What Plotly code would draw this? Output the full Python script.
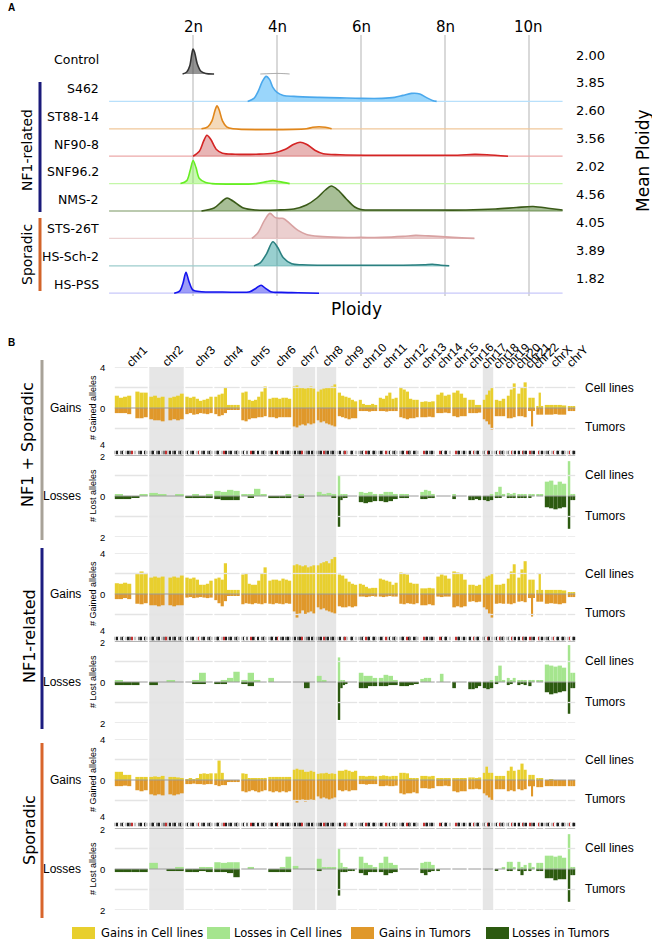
import plotly.graph_objects as go

W, H = 652, 939
def fx(x): return x / W
def fy(y): return 1 - y / H

# ================= Panel A data =================
samples = ["Control", "S462", "ST88-14", "NF90-8", "SNF96.2", "NMS-2", "STS-26T", "HS-Sch-2", "HS-PSS"]
mean_ploidy = ["2.00", "3.85", "2.60", "3.56", "2.02", "4.56", "4.05", "3.89", "1.82"]
ploidy_tickvals = [2, 4, 6, 8, 10]
ploidy_ticktext = ["2n", "4n", "6n", "8n", "10n"]
density_end = [None, 10.8, 10.8, 10.8, 10.8, 10.8, 8.7, 8.1, 10.8]

control_x = [1.75, 1.85, 1.92, 1.97, 2.0, 2.04, 2.1, 2.18, 2.3, 2.5, None, 3.6, 3.85, 4.0, 4.15, 4.3]
control_d = [0, 2, 8, 20, 25, 21, 10, 3, 0.5, 0, None, 0, 0.4, 0.6, 0.4, 0]
s462_x = [3.3, 3.45, 3.55, 3.65, 3.74, 3.82, 3.9, 4.0, 4.15, 4.4, 5.0, 5.5, 6.0, 6.5, 6.8, 7.0, 7.2, 7.4, 7.55, 7.7, 7.8]
s462_d = [0, 3, 10, 20, 25, 22, 14, 9, 6, 5, 4, 3.5, 3, 3, 4, 6, 8, 7.5, 4, 1, 0]
st88_x = [2.2, 2.35, 2.45, 2.52, 2.57, 2.62, 2.7, 2.8, 2.95, 4.7, 4.85, 5.0, 5.15, 5.3]
st88_d = [0, 2, 8, 18, 23, 19, 8, 2, 0, 0, 1.5, 2, 1.5, 0]
nf908_x = [2.0, 2.15, 2.25, 2.33, 2.42, 2.55, 2.7, 3.0, 3.5, 3.9, 4.2, 4.4, 4.55, 4.7, 4.9, 5.1, 5.5, 6.5, 7.5, 8.3, 8.7, 9.0, 9.5]
nf908_d = [0, 5, 15, 21, 17, 7, 3, 2, 2, 3, 7, 12, 14, 12, 6, 2.5, 1.5, 1, 1, 1, 1.8, 1.5, 0]
snf96_x = [1.7, 1.85, 1.93, 2.0, 2.07, 2.15, 2.3, 2.45, 3.5, 3.75, 3.9, 4.05, 4.3]
snf96_d = [0, 3, 13, 23, 16, 5, 1, 0, 0, 2, 3, 2, 0]
nms2_x = [2.2, 2.5, 2.7, 2.81, 2.95, 3.2, 3.5, 4.0, 4.4, 4.7, 4.95, 5.15, 5.29, 5.45, 5.65, 5.85, 6.0, 6.5, 7.5, 8.5, 9.2, 9.7, 10.1, 10.5, 10.8]
nms2_d = [0, 3, 10, 13, 10, 3, 1, 1, 2, 6, 13, 21, 25, 21, 12, 4, 1.5, 1, 1, 1, 2, 3.5, 4.5, 2.5, 1]
sts26_x = [3.4, 3.55, 3.7, 3.83, 3.95, 4.05, 4.15, 4.3, 4.5, 4.7, 5.0, 5.5, 6.0, 6.5, 7.0, 7.3, 7.6, 8.0, 8.4, 8.7]
sts26_d = [0, 6, 18, 25, 21, 20, 20, 15, 8, 4, 2, 1, 1, 1, 2, 3, 2.5, 1.5, 0.5, 0]
hssch2_x = [3.45, 3.6, 3.75, 3.9, 4.02, 4.15, 4.35, 4.6, 5.0, 6.0, 7.0, 7.5, 7.7, 7.9, 8.1]
hssch2_d = [0, 3, 12, 24, 18, 8, 2, 1, 0.6, 0.5, 0.6, 1, 1.5, 0.6, 0]
hspss_x = [1.55, 1.68, 1.76, 1.83, 1.9, 2.0, 2.2, 2.6, 3.0, 3.35, 3.5, 3.62, 3.72, 3.85, 4.1, 4.5, 5.0]
hspss_d = [0, 2, 10, 21, 12, 3, 1.5, 1.2, 1, 1.5, 5, 8, 5, 1.5, 0.8, 0.5, 0]

dens_x = [control_x, s462_x, st88_x, nf908_x, snf96_x, nms2_x, sts26_x, hssch2_x, hspss_x]
dens_d = [control_d, s462_d, st88_d, nf908_d, snf96_d, nms2_d, sts26_d, hssch2_d, hspss_d]

# ================= Panel B data =================
chromosomes = ["chr1", "chr2", "chr3", "chr4", "chr5", "chr6", "chr7", "chr8", "chr9", "chr10", "chr11", "chr12",
               "chr13", "chr14", "chr15", "chr16", "chr17", "chr18", "chr19", "chr20", "chr21", "chr22", "chrX", "chrY"]
chrom_len = [34.5, 36, 29, 27, 27, 24.5, 24, 21, 21, 20, 20.5, 21, 16, 16, 16, 14.5, 12, 12, 10.5, 11, 8, 8.5, 23, 9]
shaded_chroms = ["chr2", "chr7", "chr8", "chr17"]
ideogram_bands = ["lkwgkwlkgrwlwgkwkl", "lgkwgkwlgrlkwgkwgkl", "lkwgkwlrwgkwgkl", "lgkwlrkwgkwgkl",
                  "lkwgwrkgwkwgkl", "lgkwkrwgkwgkl", "lkwgkrwlgkwkl", "lgkwrgkwgkl", "lkwgrlwgkwl",
                  "lgkwrgkwgkl", "lkgwrlkwgkl", "lgkwrkgwkgl", "wwrgkwgkl", "wwrkwgkwl", "wwrgkwlkl",
                  "lkwrlgkw", "lgwrkwl", "lkwrgkl", "lgwrlk", "lkwrgk", "wrgk", "wrlk", "lgkwlrwgkwgkl", "lrwgk"]

all_gain_cell = [[1.2,1.0,1.1,1.2,0.0,1.6,1.5,1.5],[1.1,1.2,1.0,1.1,0.0,1.0,1.1,1.2,1.4],[1.1,1.0,1.1,0.9,0.7,0.8,0.9,1.1],
    [1.1,1.3,1.4,2.0,0.3,0.3,0.3,0.3],[1.5,1.6,0.8,0.7,0.8,1.1,1.6,2.1],[0.9,1.0,1.0,0.9,1.0,1.0,0.9],
    [2.1,2.2,2.0,2.0,1.9,2.0,2.1,1.9],[1.6,1.8,1.9,2.0,2.0,2.1,2.3],[1.5,1.2,1.1,1.0,0.8,0.65],[0.8,0.4,0.3,0.3,0.4,0.3],
    [1.0,0.9,1.2,1.5,0.9,1.0],[2.0,1.8,1.6,0.9,0.8,0.8],[0.6,0.65,0.6,0.65],[1.3,1.5,1.2,1.3],[1.5,1.7,1.4,1.0],
    [0.8,0.8,0.3,0.3],[0.8,1.3,1.7,2.0],[0.8,0.7,0.9],[1.2,1.8,2.4],[1.4,2.0,2.5],[1.0,1.0],[0.2,1.5,0.2],
    [0.3,0.3,0.3,0.3,0.25],[0.1,0.1,0.1]]
all_gain_tum = [[-0.5,-0.5,-0.5,-0.6,0.0,-1.0,-1.0,-0.9],[-1.1,-1.2,-1.2,-1.3,0.0,-1.2,-1.1,-1.2,-1.1],
    [-0.6,-0.5,-0.65,-0.6,-0.5,-0.55,-0.6,-0.5],[-0.6,-0.8,-0.7,-0.5,-0.15,-0.15,-0.15,-0.15],
    [-1.2,-1.3,-1.1,-1.0,-1.0,-0.9,-0.9,-0.8],[-0.9,-0.9,-1.0,-0.9,-0.9,-0.9,-0.9],[-1.8,-1.9,-1.7,-1.6,-1.7,-1.5,-1.6,-1.5],
    [-1.2,-1.4,-1.3,-1.5,-1.6,-1.7,-1.8],[-0.8,-0.9,-1.0,-1.1,-1.0,-1.0],[-0.3,-0.3,-0.3,-0.35,-0.3,-0.3],
    [-0.3,-0.3,-0.35,-0.3,-0.3,-0.3],[-0.9,-1.0,-1.1,-1.0,-1.0,-0.9],[-0.9,-0.9,-0.85,-0.9],[-0.5,-0.5,-0.45,-0.5],
    [-0.8,-0.9,-0.8,-0.8],[-0.5,-0.5,-0.5,-0.45],[-1.1,-1.3,-1.6,-2.1],[-0.8,-0.8,-0.8],[-1.0,-1.0,-0.9],
    [-0.8,-0.8,-0.9],[-0.3,-0.3,-1.8,-0.3],[-0.65,-0.65],[-0.65,-0.65,-0.6,-0.65,-0.65],[-0.3,-0.3,-0.3]]
all_loss_cell = [[0.05,0,0,0.05],[0.15,0.05,0,0.05],[0,0.05,0,0.1],[0.25,0.2,0.3,0.25],[0.05,0.05,0.35,0.05],[0,0,0,0.05],
    [0,0.1,0,0],[0.2,0.1,0.15,0.05],[1.0,0.1,0.05,0.05,0,0,0,0],[0.2,0.15,0.2,0.1],[0.1,0.2,0.2,0.1],[0.1,0.05,0,0],
    [0.2,0.3,0.25,0.1],[0,0,0,0],[0.05,0,0,0],[0,0,0,0],[0,0,0.05],[0.2,0.45,0.1],[0.15,0.1,0.15],[0.05,0.1,0.05],
    [0.1,0.05],[0.05,0.05],[0.7,0.75,0.55,0.7,0.6],[1.7,0.1,0.1]]
all_loss_tum = [[-0.15,-0.15,-0.05,0],[0,0,0,0],[-0.1,-0.1,-0.05,-0.1],[-0.15,-0.2,-0.2,-0.2],[0,-0.05,0,0],
    [-0.1,-0.1,-0.1,-0.1],[0,-0.05,0,0],[0,0,0,-0.05],[-1.5,-0.2,-0.1,-0.05,0,0,0,0],[-0.3,-0.35,-0.3,-0.25],
    [-0.25,-0.3,-0.25,-0.15],[-0.1,-0.1,0,0],[-0.15,-0.15,-0.1,-0.1],[0,0,0,0],[-0.15,0,0,0],[-0.2,-0.2,-0.15,-0.2],
    [-0.2,-0.25,-0.2],[-0.1,-0.05,0],[-0.1,-0.05,-0.1],[-0.1,-0.05,-0.1],[-0.05,0],[0,0],
    [-0.55,-0.6,-0.65,-0.6,-0.55],[-1.6,-0.2,-0.2]]

nf1_gain_cell = [[1.05,1.0,1.1,1.0,0.0,2.0,2.2,2.0],[1.6,1.7,1.6,1.7,0.0,1.6,1.7,1.6,1.8],[1.6,1.5,1.6,1.4,0.9,0.9,1.0,1.3],
    [1.5,1.6,1.4,3.0,0.4,0.4,0.4,0.4],[1.9,2.0,1.0,0.9,0.9,1.3,2.0,2.6],[1.3,1.4,1.4,1.3,1.5,1.4,1.3],
    [2.8,2.9,2.8,2.7,2.8,2.6,2.7,2.8],[2.8,3.0,3.1,3.2,3.0,3.4,3.6],[1.9,1.8,1.5,1.2,1.0,0.9],[1.0,0.9,0.7,0.55,0.6,0.6],
    [1.5,1.4,1.3,1.2,0.9,1.1],[2.1,2.0,1.9,1.1,1.0,1.0],[0.55,0.55,0.6,0.55],[1.7,1.9,1.8,1.5],[2.2,2.1,2.0,1.4],
    [0.9,0.9,0.8,0.9],[1.5,1.7,1.8,2.0],[0.9,0.9,1.0],[1.5,2.2,2.9],[1.6,2.4,3.2],[1.4,1.4],[0.4,2.0,0.4],
    [0.4,0.4,0.4,0.4,0.35],[0.1,0.1,0.1]]
nf1_gain_tum = [[-0.5,-0.5,-0.4,-0.5,0.0,-0.95,-1.0,-0.9],[-1.1,-1.1,-1.2,-1.1,0.0,-1.1,-1.2,-1.1,-1.1],
    [-0.35,-0.3,-0.4,-0.35,-0.3,-0.35,-0.4,-0.35],[-0.6,-0.9,-1.2,-0.7,-0.1,-0.1,-0.1,-0.1],
    [-1.0,-0.9,-0.95,-1.0,-0.9,-0.95,-1.0,-0.9],[-0.95,-1.0,-0.9,-0.95,-1.0,-0.9,-0.95],
    [-1.7,-2.3,-1.9,-1.6,-2.0,-1.8,-1.7,-1.9],[-1.3,-1.5,-1.4,-1.6,-1.7,-1.8,-1.9],[-1.2,-1.3,-1.3,-1.2,-1.3,-1.2],
    [-0.25,-0.25,-0.3,-0.25,-0.2,-0.25],[-0.25,-0.3,-0.25,-0.2,-0.25,-0.25],[-0.95,-1.0,-0.9,-0.95,-1.0,-0.9],
    [-1.1,-1.1,-1.0,-1.1],[-0.25,-0.3,-0.25,-0.25],[-1.3,-1.2,-1.3,-1.2],[-0.75,-0.7,-0.8,-0.75],[-1.3,-1.5,-1.9,-2.3],
    [-0.95,-0.9,-0.95],[-0.95,-1.0,-0.9],[-0.75,-0.7,-0.8],[-0.4,-0.4,-2.2,-0.4],[-0.75,-0.75],
    [-0.95,-0.9,-0.95,-1.0,-0.9],[-0.3,-0.3,-0.3]]
nf1_loss_cell = [[0.05,0,0,0],[0,0,0.05,0],[0,0.1,0.45,0],[0,0.1,0.2,0.5],[0.1,0.45,0.1,0],[0.2,0,0,0],[0,0,0,0],
    [0.3,0.1,0,0],[1.2,0.1,0.05,0,0,0,0,0],[0.45,0.3,0.3,0.2],[0.2,0.35,0.3,0.1],[0,0,0,0],[0.15,0.2,0.2,0],
    [0,0.4,0,0],[0,0,0,0],[0,0,0,0],[0,0,0.05],[0.3,0.8,0.1],[0.2,0.1,0.2],[0.05,0.1,0.05],[0.1,0.1],[0.05,0.05],
    [0.85,0.8,0.75,0.8,0.7],[1.8,0.45,0.45]]
nf1_loss_tum = [[-0.15,-0.15,-0.15,0],[-0.15,0,0,0],[0,-0.1,-0.1,0],[-0.1,-0.1,0,0],[-0.1,-0.2,0,0],[0,0,0,0],
    [0,0,-0.3,0],[0,0,0,0],[-1.85,-0.3,-0.15,-0.1,0,0,0,0],[-0.3,-0.3,-0.2,-0.2],[-0.2,-0.2,-0.15,-0.15],
    [-0.2,-0.2,-0.15,-0.1],[0,0,0,0],[0,0,0,0],[-0.3,0,0,0],[-0.35,-0.35,-0.3,-0.2],[-0.3,-0.35,-0.3],[-0.1,0,0],
    [-0.15,-0.1,0],[-0.15,-0.1,-0.15],[-0.2,0],[0,0],[-0.5,-0.6,-0.55,-0.5,-0.45],[-1.55,-0.3,-0.3]]

spor_gain_cell = [[0.8,0.8,0.5,0.5,0.0,0.3,0.3,0.3],[0.3,0.35,0.3,0.4,0.0,0.3,0.3,0.25,0.2],[0.05,0.1,0.05,0.1,0.6,0.65,0.6,0.65],
    [0.65,1.9,0.7,0,0,0,0,0],[0.65,0.6,0.15,0.15,0.1,0.15,0.15,0.2],[0.3,0.3,0.3,0.3,0.3,0.3,0.3],
    [1.0,1.1,1.0,1.0,0.8,0.8,0.9,0.8],[0.6,0.65,0.65,0.7,0.6,0.65,0.6],[0.9,0.9,1.0,0.9,0.8,0.9],
    [0.4,0.4,0.35,0.4,0.4,0.35],[0.4,0.45,0.4,0.35,0.4,0.4],[0.7,0.7,0.65,0.2,0.1,0.1],[0.4,0.4,0.35,0.4],
    [0.1,0.1,0.15,0.1],[0.1,0.1,0.1,0.1],[0.25,0.25,0.2,0.25],[0.7,1.3,0.7,0.7],[0.4,0.4,0.4],[0.9,1.3,0.9],
    [1.0,1.6,1.0],[0.5,0.5],[0.1,0.1,0.1],[0.0,0.05,0.0,0.0,0.0],[0.0,0.0,0.0]]
spor_gain_tum = [[-0.6,-0.6,-0.55,-0.6,0.0,-1.0,-1.1,-1.0],[-1.4,-1.5,-1.4,-1.5,0.0,-1.4,-1.5,-1.4,-1.3],
    [-0.4,-0.4,-0.35,-0.4,-0.4,-0.45,-0.4,-0.4],[-0.5,-0.6,-0.5,-0.5,-0.2,-0.2,-0.2,-0.2],
    [-1.1,-1.2,-1.1,-1.0,-1.1,-1.2,-1.1,-1.0],[-1.1,-1.2,-1.1,-1.2,-1.1,-1.2,-1.1],[-2.0,-2.2,-2.0,-1.9,-2.1,-2.0,-1.9,-2.0],
    [-1.6,-1.8,-1.7,-1.8,-1.9,-1.8,-1.7],[-1.0,-1.1,-1.0,-1.1,-1.0,-1.0],[-0.4,-0.4,-0.45,-0.4,-0.4,-0.4],
    [-0.6,-0.6,-0.55,-0.6,-0.6,-0.55],[-1.3,-1.4,-1.3,-1.3,-1.2,-1.3],[-0.8,-0.8,-0.85,-0.8],[-0.6,-0.6,-0.55,-0.6],
    [-1.1,-1.2,-1.1,-1.1],[-0.9,-0.9,-0.85,-0.9],[-1.3,-1.5,-1.7,-2.0],[-0.9,-0.9,-0.9],[-1.1,-1.0,-1.1],
    [-0.9,-1.0,-0.9],[-0.6,-0.6,-1.6,-0.6],[-0.7,-0.7],[-0.6,-0.6,-0.6,-0.6,-0.6],[-0.6,-0.6,-0.6]]
spor_loss_cell = [[0,0,0,0],[0.3,0,0,0.1],[0,0,0.1,0.05],[0.33,0.3,0.33,0.33],[0,0.1,0,0],[0,0,0.1,0.6],[0.15,0,0,0],
    [0.5,0.1,0.1,0.05],[1.0,0.3,0.1,0.05,0,0,0,0],[0.6,0.3,0.2,0.1],[0.3,0.6,0.3,0.2],[0,0,0,0],[0.3,0.35,0.35,0.2],
    [0,0,0,0],[0,0,0,0],[0,0,0,0],[0,0,0],[0,0,0.1],[0.35,0.35,0.1],[0.35,0.1,0.2],[0.3,0.1],[0.3,0.3],
    [0.65,0.65,0.6,0.65,0.55],[1.7,0.1,0.1]]
spor_loss_tum = [[-0.15,-0.15,-0.15,-0.15],[0,0,-0.1,-0.1],[-0.15,-0.15,-0.1,-0.15],[-0.15,-0.15,-0.2,-0.4],[0,0,0,0],
    [-0.15,-0.15,-0.15,-0.15],[0,0,0,0],[-0.1,0,0,0],[-1.3,-0.15,-0.15,-0.15,-0.1,-0.1,-0.1,0],[-0.2,-0.3,-0.15,-0.15],
    [-0.15,-0.3,-0.2,-0.15],[0,0,0,0],[-0.2,-0.3,-0.15,-0.1],[-0.1,0,0,0],[0,0,0,0],[0,0,0,0],[0,0,0],[-0.05,0,0],
    [-0.1,-0.1,0],[-0.1,-0.3,-0.1],[-0.1,0],[-0.1,-0.1],[-0.45,-0.45,-0.55,-0.5,-0.5],[-1.6,-0.3,-0.3]]

group_names = ["NF1 + Sporadic", "NF1-related", "Sporadic"]
legend_labels = ["Gains in Cell lines", "Losses in Cell lines", "Gains in Tumors", "Losses in Tumors"]

# ================= Styles =================
ridge_line = ["#333333", "#4aa8ec", "#e0861a", "#d42424", "#66ee22", "#3a5a18", "#d8a2a2", "#2b8080", "#1414ee"]
ridge_fill = ["rgba(60,60,60,0.55)", "rgba(120,200,250,0.75)", "rgba(224,150,60,0.35)", "rgba(205,90,90,0.45)",
              "rgba(120,240,60,0.4)", "rgba(80,125,45,0.5)", "rgba(215,160,160,0.5)", "rgba(50,160,160,0.5)",
              "rgba(60,60,240,0.5)"]
ridge_base = ["#bbbbbb", "#b8e0fb", "#f0c79a", "#eca9a9", "#c4f7a8", "#a4b894", "#ecd2d2", "#9ccccc", "#c8c8fa"]
C_GC, C_GT, C_LC, C_LT = "#E8CF2E", "#E0982A", "#A5E58E", "#2C5A10"
SANS = "Liberation Sans, Arial, sans-serif"
DEJA = "DejaVu Sans, sans-serif"

fig = go.Figure()
annotations = []
shapes = []

def txt(x, y, s, size, family=DEJA, xanchor="center", yanchor="middle", angle=0, color="black", xref="paper", xshift=0):
    annotations.append(dict(x=x if xref != "paper" else fx(x), y=fy(y), xref=xref, yref="paper", text=s,
                            showarrow=False, font=dict(size=size, family=family, color=color),
                            xanchor=xanchor, yanchor=yanchor, textangle=angle, xshift=xshift))

# ================= Panel A =================
ROW0, ROWS = 74.0, 27.4
x0p = 0.0
for i, name in enumerate(samples):
    base = -i
    if density_end[i] is not None:
        fig.add_trace(go.Scatter(x=[x0p, density_end[i]], y=[base, base], mode="lines",
                                 line=dict(color=ridge_base[i], width=1.3), hoverinfo="skip", showlegend=False))
    pieces, cx, cd = [], [], []
    for xv, dv in zip(dens_x[i], dens_d[i]):
        if xv is None:
            pieces.append((cx, cd)); cx, cd = [], []
        else:
            cx.append(xv); cd.append(dv)
    pieces.append((cx, cd))
    for pi, (px_, pd_) in enumerate(pieces):
        fig.add_trace(go.Scatter(x=[px_[0], px_[-1]], y=[base, base], mode="lines", line=dict(width=0, color="rgba(0,0,0,0)"),
                                 hoverinfo="skip", showlegend=False))
        lc = ridge_line[i] if (i != 0 or pi == 0) else "#b0b0b0"
        fig.add_trace(go.Scatter(x=px_, y=[base + d / ROWS for d in pd_], mode="lines",
                                 line=dict(color=lc, width=1.6 if lc != "#b0b0b0" else 1.0, shape="spline", smoothing=0.9),
                                 fill="tonexty", fillcolor=ridge_fill[i], hoverinfo="skip", showlegend=False))
    txt(101, 60 + i * 28, name, 12.5, xanchor="right")
    txt(590, 55 + i * 27.9, mean_ploidy[i], 13)

for tv, tt in zip(ploidy_tickvals, ploidy_ticktext):
    annotations.append(dict(x=tv, y=fy(27), xref="x", yref="paper", text=tt, showarrow=False,
                            font=dict(size=15, family=DEJA, color="black"), xanchor="center", yanchor="middle"))

txt(6, 8, "<b>A</b>", 10, family=SANS, xanchor="left")
txt(357, 309, "Ploidy", 17)
txt(643, 161, "Mean Ploidy", 17, angle=-90)
txt(27, 150, "NF1-related", 14, angle=-90)
txt(27, 254, "Sporadic", 14, angle=-90)
shapes.append(dict(type="line", xref="paper", yref="paper", x0=fx(40), x1=fx(40), y0=fy(82), y1=fy(212),
                   line=dict(color="#1a1a7a", width=3)))
shapes.append(dict(type="line", xref="paper", yref="paper", x0=fx(40), x1=fx(40), y0=fy(218), y1=fy(291),
                   line=dict(color="#d2642a", width=3)))

# ================= Panel B =================
GAP = 1.6
starts = []
acc = 0.0
for L in chrom_len:
    starts.append(acc); acc += L
TOTAL = acc

def seg_arrays(series):
    xs, ws, ys = [], [], []
    for c, vals in enumerate(series):
        s = starts[c] + GAP / 2
        e = starts[c] + chrom_len[c] - GAP / 2
        w = (e - s) / len(vals)
        for k, v in enumerate(vals):
            xs.append(s + w * (k + 0.5)); ws.append(w); ys.append(v)
    return xs, ws, ys

def grid_xy(levels):
    xs, ys = [], []
    for lv in levels:
        for c in range(len(chrom_len)):
            xs += [starts[c] + GAP / 2, starts[c] + chrom_len[c] - GAP / 2, None]
            ys += [lv, lv, None]
    return xs, ys

for c, name in enumerate(chromosomes):
    if name in shaded_chroms:
        shapes.append(dict(type="rect", xref="x2", yref="paper", x0=starts[c] + GAP / 2,
                           x1=starts[c] + chrom_len[c] - GAP / 2, y0=fy(910), y1=fy(367),
                           fillcolor="#e6e6e6", line=dict(width=0), layer="below"))

groups = [
    (all_gain_cell, all_gain_tum, all_loss_cell, all_loss_tum, 408.0, 496.0),
    (nf1_gain_cell, nf1_gain_tum, nf1_loss_cell, nf1_loss_tum, 594.0, 682.0),
    (spor_gain_cell, spor_gain_tum, spor_loss_cell, spor_loss_tum, 780.0, 869.0),
]
layout_axes = {}
ax = 2
band_col = {"w": "#f4f4f4", "l": "#c4c4c4", "g": "#7a7a7a", "k": "#1e1e1e", "r": "#c43030"}
for gi, (gc, gt, lc, lt, gz, lz) in enumerate(groups):
    ya_g, ya_l, ya_i = ax, ax + 1, ax + 2
    ax += 3
    layout_axes[f"yaxis{ya_g}"] = dict(domain=[fy(gz + 41), fy(gz - 41)], range=[-4, 4], anchor="x2", visible=False)
    layout_axes[f"yaxis{ya_l}"] = dict(domain=[fy(lz + 41), fy(lz - 41)], range=[-2, 2], anchor="x2", visible=False)
    layout_axes[f"yaxis{ya_i}"] = dict(domain=[fy(gz + 46.5), fy(gz + 42.5)], range=[0, 1], anchor="x2", visible=False)
    for yax, levels, col in [(ya_g, [4, 2, -2], "#e4e4e4"), (ya_l, [1, -1, -2], "#e4e4e4"), (ya_l, [2], "#9a9a9a")]:
        gx, gy = grid_xy(levels)
        fig.add_trace(go.Scatter(x=gx, y=gy, mode="lines", line=dict(color=col, width=1.3),
                                 xaxis="x2", yaxis=f"y{yax}", hoverinfo="skip", showlegend=False))
    for series, col, yax in [(gc, C_GC, ya_g), (gt, C_GT, ya_g), (lc, C_LC, ya_l), (lt, C_LT, ya_l)]:
        bx, bw, by = seg_arrays(series)
        fig.add_trace(go.Bar(x=bx, y=by, width=bw, marker=dict(color=col, line=dict(width=0)),
                             xaxis="x2", yaxis=f"y{yax}", hoverinfo="skip", showlegend=False))
    for yax in [ya_g, ya_l]:
        gx, gy = grid_xy([0])
        fig.add_trace(go.Scatter(x=gx, y=gy, mode="lines", line=dict(color="#9a9a9a", width=1),
                                 xaxis="x2", yaxis=f"y{yax}", hoverinfo="skip", showlegend=False))
    ix, iw, icol = [], [], []
    for c, bands in enumerate(ideogram_bands):
        s = starts[c] + GAP / 2
        e = starts[c] + chrom_len[c] - GAP / 2
        w = (e - s) / len(bands)
        for k, b in enumerate(bands):
            ix.append(s + w * (k + 0.5)); iw.append(w); icol.append(band_col[b])
    fig.add_trace(go.Bar(x=ix, y=[1] * len(ix), width=iw, marker=dict(color=icol, line=dict(width=0)),
                         xaxis="x2", yaxis=f"y{ya_i}", hoverinfo="skip", showlegend=False))
    txt(107, gz - 41, "4", 9.5, family=SANS, xanchor="right")
    txt(107, gz, "0", 9.5, family=SANS, xanchor="right")
    txt(107, gz + 36.5, "4", 9, family=SANS, xanchor="right")
    txt(107, lz - 39.5, "2", 9, family=SANS, xanchor="right")
    txt(107, lz, "0", 9.5, family=SANS, xanchor="right")
    txt(107, lz + 41, "2", 9.5, family=SANS, xanchor="right")
    txt(93, gz, "# Gained alleles", 9, family=SANS, angle=-90)
    txt(93, lz, "# Lost alleles", 9, family=SANS, angle=-90)
    txt(83, gz, "Gains", 12, family=SANS, xanchor="right")
    txt(83, lz, "Losses", 12, family=SANS, xanchor="right")
    txt(583, gz - 20, "Cell lines", 12, family=SANS, xanchor="left")
    txt(583, gz + 19, "Tumors", 12, family=SANS, xanchor="left")
    txt(583, lz - 21, "Cell lines", 12, family=SANS, xanchor="left")
    txt(583, lz + 20, "Tumors", 12, family=SANS, xanchor="left")

for c, name in enumerate(chromosomes):
    txt(starts[c] + chrom_len[c] / 2, 356, name, 12, family=SANS, angle=-45, xref="x2", xshift=6)

txt(6, 342, "<b>B</b>", 10, family=SANS, xanchor="left")
txt(27, 445, group_names[0], 16, angle=-90)
txt(29, 636, group_names[1], 16, angle=-90)
txt(29, 830, group_names[2], 16, angle=-90)
for (y0, y1, col) in [(360, 540, "#a8a298"), (548, 729, "#1c1c80"), (743, 918, "#d8652c")]:
    shapes.append(dict(type="line", xref="paper", yref="paper", x0=fx(42), x1=fx(42), y0=fy(y0), y1=fy(y1),
                       line=dict(color=col, width=3)))

for (bx, tx, lab, col) in [(72, 99, legend_labels[0], C_GC), (207, 232, legend_labels[1], C_LC),
                           (351, 377, legend_labels[2], C_GT), (486, 510, legend_labels[3], C_LT)]:
    shapes.append(dict(type="rect", xref="paper", yref="paper", x0=fx(bx), x1=fx(bx + 23), y0=fy(940), y1=fy(927),
                       fillcolor=col, line=dict(width=0)))
    txt(tx, 933, lab, 11.5, xanchor="left")

fig.update_layout(
    width=W, height=H, margin=dict(l=0, r=0, t=0, b=0), paper_bgcolor="white", plot_bgcolor="rgba(0,0,0,0)",
    barmode="overlay", showlegend=False, annotations=annotations, shapes=shapes,
    xaxis=dict(domain=[fx(107), fx(563)], range=[-0.05, 10.81], anchor="y", side="top", tickvals=ploidy_tickvals,
               showticklabels=False, showgrid=True, gridcolor="#d9d9d9", gridwidth=2, zeroline=False,
               showline=False, ticks=""),
    yaxis=dict(domain=[fy(296), fy(35)], range=[-(296 - ROW0) / ROWS, (ROW0 - 35) / ROWS], visible=False),
    xaxis2=dict(domain=[fx(114), fx(114 + TOTAL)], range=[0, TOTAL], anchor="y2", visible=False),
    **layout_axes,
)
fig.write_html("out.html")
